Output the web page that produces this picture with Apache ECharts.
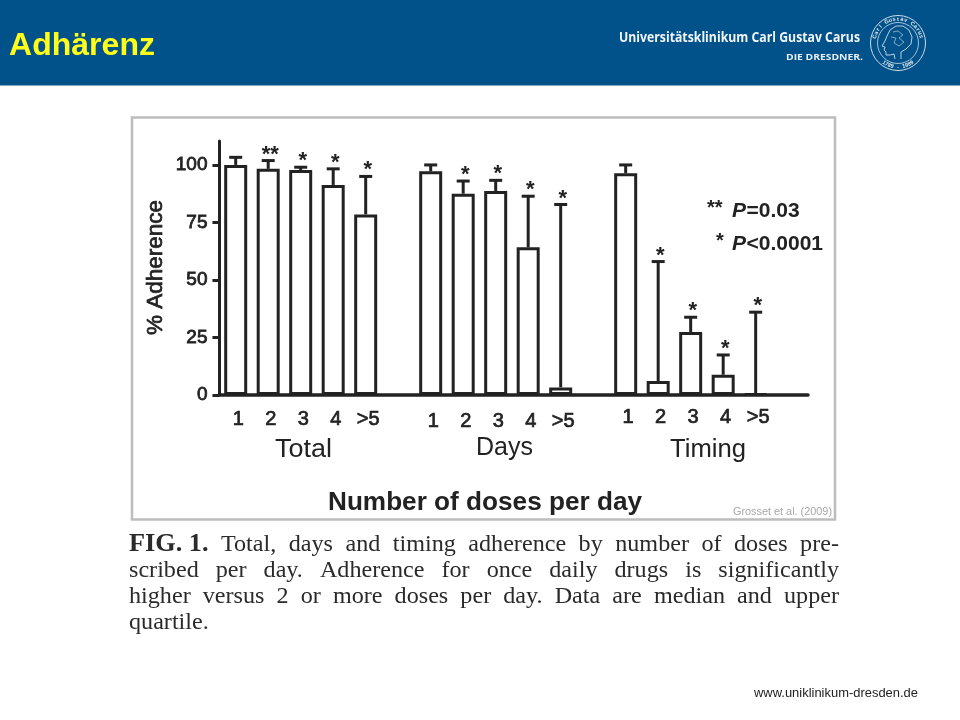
<!DOCTYPE html>
<html><head><meta charset="utf-8">
<style>html,body{margin:0;padding:0;background:#fff}#c{width:960px;height:720px}</style>
<script src="https://cdn.jsdelivr.net/npm/echarts@6/dist/echarts.min.js"></script>
</head><body><div id="c"></div>
<script>
const doseLabels = ['1','2','3','4','>5'];
const groupNames = ['Total','Days','Timing'];
const totalMedian = [100, 98.3, 97.8, 91.3, 78.5];
const totalUpper  = [103.3, 101.9, 99, 98.3, 95];
const daysMedian  = [97.2, 87.5, 88.7, 64.2, 3.3];
const daysUpper   = [100, 93, 93.3, 86.4, 82.8];
const timingMedian = [96.4, 6.1, 27.4, 8.8, 0.5];
const timingUpper  = [100, 58, 33.8, 17.4, 36];
const stars = {
  total: ['', '**', '*', '*', '*'],
  days: ['', '*', '*', '*', '*'],
  timing: ['', '*', '*', '*', '*']
};
const yTicks = [0, 25, 50, 75, 100];
const captionLines = [
  ['FIG. 1.', 'Total, days and timing adherence by number of doses pre-'],
  ['', 'scribed per day. Adherence for once daily drugs is significantly'],
  ['', 'higher versus 2 or more doses per day. Data are median and upper'],
  ['', 'quartile.']
];

const INK = '#222';
const SANS = '"Liberation Sans", Arial, sans-serif';
const SERIF = '"Liberation Serif", serif';

const groups = [
  {start: 0, med: totalMedian, up: totalUpper, st: stars.total, dy: 24},
  {start: 6, med: daysMedian, up: daysUpper, st: stars.days, dy: 26},
  {start: 12, med: timingMedian, up: timingUpper, st: stars.timing, dy: 22}
];
const barData = [], errData = [], labelData = [];
groups.forEach(g => {
  g.med.forEach((m, i) => {
    const x = g.start + i;
    barData.push([x, m]);
    errData.push([x, m, g.up[i], g.st[i]]);
    labelData.push([x, doseLabels[i], g.dy]);
  });
});

const mctx = document.createElement('canvas').getContext('2d');
function widthOf(t, font) { mctx.font = font; return mctx.measureText(t).width; }
function fit(t, x, y, w, font, fill, extra) {
  const sx = w / widthOf(t, font);
  return Object.assign({
    type: 'text', x, y, scaleX: sx, silent: true,
    style: {text: t, font, fill, textAlign: 'left', textVerticalAlign: 'middle'}
  }, extra || {});
}
function medium(el, w) { el.style.stroke = el.style.fill; el.style.lineWidth = w; return el; }

const graphics = [];
graphics.push({type: 'rect', shape: {x: 0, y: 0, width: 960, height: 85.5}, style: {fill: '#01518a'}, z: -5, silent: true});
graphics.push({type: 'rect', shape: {x: 132, y: 117.5, width: 703, height: 402}, style: {fill: 'none', stroke: '#bdbdbd', lineWidth: 2.5}, silent: true});
graphics.push(fit('Adhärenz', 9, 46, 146, 'bold 32px ' + SANS, '#ffff19'));
graphics.push(fit('Universitätsklinikum Carl Gustav Carus', 619, 37.5, 241, 'bold 15px "Open Sans"', '#f2f6fa'));
graphics.push(fit('DIE DRESDNER.', 786, 57, 77, 'bold 9.5px "Open Sans"', '#e6edf3'));

// seal
const cx = 898, cy = 43;
graphics.push({type: 'circle', shape: {cx, cy, r: 27.5}, style: {fill: 'none', stroke: '#cfdde8', lineWidth: 1}, silent: true});
graphics.push({type: 'circle', shape: {cx, cy, r: 20.5}, style: {fill: 'none', stroke: '#cfdde8', lineWidth: 0.8}, silent: true});
function arcText(t, a0, step, r, flip) {
  [...t].forEach((ch, i) => {
    const a = a0 + i * step;
    graphics.push({type: 'text', x: cx + r * Math.cos(a), y: cy + r * Math.sin(a), rotation: flip ? -(a - Math.PI / 2) : -(a + Math.PI / 2), silent: true,
      style: {text: ch, font: 'bold 5.5px ' + SANS, fill: '#dfe8ef', textAlign: 'center', textVerticalAlign: 'middle'}});
  });
}
arcText('Carl Gustav Carus', Math.PI * 1.5 - 1.3, 2.6 / 16, 24, false);
arcText('1789 - 1989', Math.PI / 2 + 0.62, -1.24 / 10, 24, true);
graphics.push({type: 'polyline', silent: true, shape: {points: [[903,26],[896,26],[890,30],[887,36],[885,41],[882,46],[885,47],[884,50],[886,52],[886,55],[890,55],[894,54],[895,59]]}, style: {fill: 'none', stroke: '#cfdde8', lineWidth: 0.9}});
graphics.push({type: 'polyline', silent: true, shape: {points: [[903,26],[909,30],[912,37],[911,44],[906,49],[901,52],[901,59]]}, style: {fill: 'none', stroke: '#cfdde8', lineWidth: 0.9}});
graphics.push({type: 'polyline', silent: true, shape: {points: [[893,32],[898,31],[903,35],[899,38],[904,42],[899,46],[894,43],[896,38],[891,37]]}, style: {fill: 'none', stroke: '#9fbbd0', lineWidth: 0.8}});

// axis title and group names
graphics.push(medium(fit('% Adherence', 156, 335, 135, '22.5px ' + SANS, INK, {rotation: Math.PI / 2}), 0.7));
graphics.push(fit(groupNames[0], 275, 450, 57, '25.5px ' + SANS, INK));
graphics.push(fit(groupNames[1], 476, 448, 57, '25.5px ' + SANS, INK));
graphics.push(fit(groupNames[2], 670, 450, 76, '25.5px ' + SANS, INK));
graphics.push(fit('Number of doses per day', 328, 503, 314, 'bold 26px ' + SANS, INK));
graphics.push(fit('Grosset et al. (2009)', 733, 512.5, 99, '10.5px ' + SANS, '#a8a8a8'));
graphics.push(fit('www.uniklinikum-dresden.de', 754, 694, 164, '12px ' + SANS, INK));

// p-value key
function pKey(st, sx, px, rest, y) {
  graphics.push({type: 'text', x: sx, y: y - 3, silent: true, style: {text: st, font: 'bold 20px ' + SANS, fill: INK, textVerticalAlign: 'middle'}});
  graphics.push({type: 'text', x: px, y, silent: true, style: {text: 'P', font: 'italic bold 21px ' + SANS, fill: INK, textVerticalAlign: 'middle'}});
  graphics.push({type: 'text', x: px + 14.5, y, silent: true, style: {text: rest, font: 'bold 21px ' + SANS, fill: INK, textVerticalAlign: 'middle'}});
}
pKey('**', 707, 732, '=0.03', 211);
pKey('*', 716, 732, '<0.0001', 244);

// justified caption
const capFont = '23px ' + SERIF, capBold = 'bold 25px ' + SERIF, capX = 129, capR = 839, capSX = 1.05;
captionLines.forEach((ln, k) => {
  const items = [];
  if (ln[0]) items.push({t: ln[0], f: capBold});
  ln[1].split(' ').forEach(t => items.push({t, f: capFont}));
  items.forEach(it => it.w = widthOf(it.t, it.f) * capSX);
  const sum = items.reduce((a, b) => a + b.w, 0);
  const last = k === captionLines.length - 1;
  const gap = last ? 6 : (capR - capX - sum) / (items.length - 1);
  let x = capX;
  items.forEach(it => {
    graphics.push({type: 'text', x, y: 545 + k * 26, scaleX: capSX, silent: true,
      style: {text: it.t, font: it.f, fill: '#2a2a2a', textVerticalAlign: 'middle'}});
    x += it.w + gap;
  });
});

const chart = echarts.init(document.getElementById('c'));
chart.setOption({
  animation: false,
  backgroundColor: '#fff',
  grid: {left: 219.45, top: 141, width: 588.55, height: 254, containLabel: false},
  xAxis: {type: 'value', min: -0.5, max: 17.61, interval: 100,
    axisLine: {show: true, lineStyle: {color: INK, width: 3.5}},
    axisTick: {show: false}, axisLabel: {show: false}, splitLine: {show: false}},
  yAxis: {type: 'value', min: 0, max: 110.4,
    axisLine: {show: true, onZero: false, lineStyle: {color: INK, width: 3}},
    axisTick: {show: true, customValues: yTicks, length: 7, lineStyle: {color: INK, width: 3}},
    axisLabel: {show: true, customValues: yTicks, margin: 12, fontFamily: SANS, fontSize: 19, color: INK, textBorderColor: INK, textBorderWidth: 0.8},
    splitLine: {show: false}},
  series: [
    {type: 'custom', name: 'Upper quartile', data: errData, z: 1,
     renderItem: (params, api) => {
       const x = api.value(0), st = errData[params.dataIndex][3];
       const a = api.coord([x, api.value(1)]), b = api.coord([x, api.value(2)]);
       const s = {stroke: INK, lineWidth: 3, fill: 'none'};
       const ch = [
         {type: 'line', shape: {x1: a[0], y1: a[1], x2: b[0], y2: b[1]}, style: s},
         {type: 'line', shape: {x1: a[0] - 6.5, y1: b[1], x2: a[0] + 6.5, y2: b[1]}, style: s}
       ];
       if (st) ch.push({type: 'text', x: a[0] + 2, y: b[1] - 6, style: {text: st, font: 'bold 22px ' + SANS, fill: INK, textAlign: 'center', textVerticalAlign: 'middle'}});
       return {type: 'group', children: ch};
     }},
    {type: 'bar', name: 'Median', data: barData, barWidth: 23, z: 2,
     itemStyle: {color: '#fff', borderColor: INK, borderWidth: 3}},
    {type: 'custom', name: 'Doses', data: labelData.map(d => [d[0], 0, d[1], d[2]]), z: 3,
     renderItem: (params, api) => {
       const d = labelData[params.dataIndex];
       const p = api.coord([d[0], 0]);
       return {type: 'text', x: p[0] + 2.5, y: p[1] + d[2], style: {text: d[1], font: '20px ' + SANS, fill: INK, stroke: INK, lineWidth: 0.7, textAlign: 'center', textVerticalAlign: 'middle'}};
     }}
  ],
  graphic: {elements: graphics}
});
</script></body></html>
